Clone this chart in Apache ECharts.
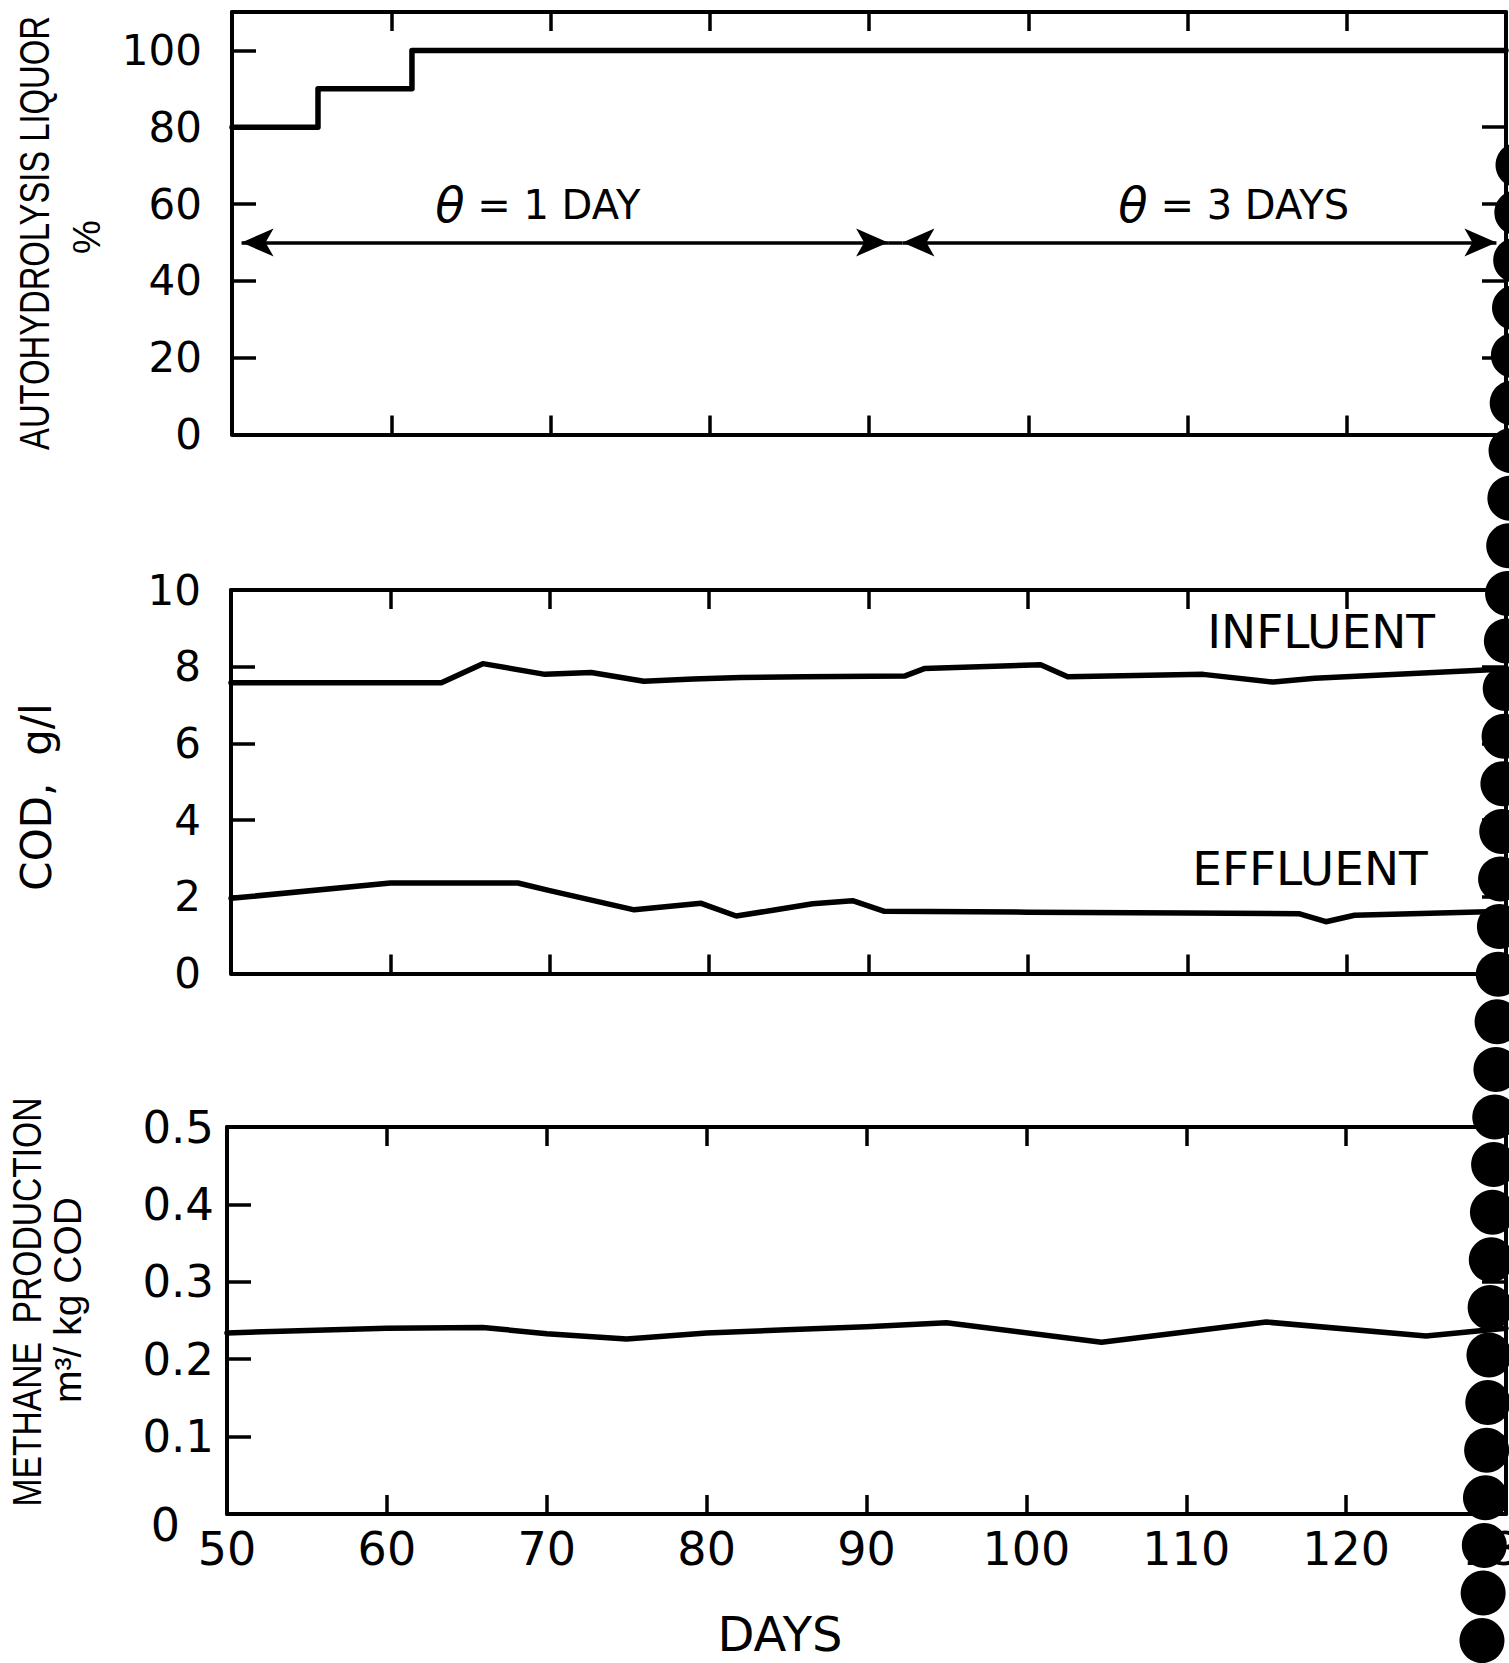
<!DOCTYPE html>
<html>
<head>
<meta charset="utf-8">
<script src="https://cdn.jsdelivr.net/npm/echarts@6/dist/echarts.min.js"></script>
<style>
  html, body { margin: 0; padding: 0; background: #fff; }
  #chart { width: 1509px; height: 1663px; }
</style>
</head>
<body>
<div id="chart"></div>
<script>
// ---- day axis ----
const dayTicks = [60, 70, 80, 90, 100, 110, 120];
const dayLabels = [50, 60, 70, 80, 90, 100, 110, 120, 130];

// ---- panel 1: autohydrolysis liquor in the feed, % ----
const liquorPoints = [[50, 80], [55.4, 80], [55.4, 90], [61.3, 90], [61.3, 100], [130, 100]];
const liquorTicks = [20, 40, 60, 80, 100];
const liquorLabels = [0, 20, 40, 60, 80, 100];
// hydraulic retention periods (arrow tips, in days) and the level they are drawn at
const periodOne = [50.6, 91.2];
const periodThree = [92.1, 129.4];
const periodLevel = 50;
const periodNames = ['θ = 1 DAY', 'θ = 3 DAYS'];

// ---- panel 2: COD, g/l ----
const influentCod = [
  [50, 7.58], [63.2, 7.58], [65.8, 8.08], [69.7, 7.8], [72.6, 7.85], [75.9, 7.62],
  [79, 7.68], [82, 7.72], [86, 7.74], [92.3, 7.76], [93.5, 7.95], [100.8, 8.05],
  [102.5, 7.74], [111, 7.8], [115.4, 7.6], [118, 7.7], [130, 7.94]
];
const effluentCod = [
  [50, 1.96], [60, 2.36], [68, 2.36], [70, 2.16], [75.3, 1.66], [79.5, 1.83],
  [81.7, 1.5], [84, 1.65], [86.5, 1.82], [89, 1.9], [91, 1.62], [100, 1.6],
  [110, 1.58], [117, 1.56], [118.7, 1.35], [120.5, 1.52], [130, 1.62]
];
const codTicks = [2, 4, 6, 8];
const codLabels = [0, 2, 4, 6, 8, 10];
const codNames = ['INFLUENT', 'EFFLUENT'];

// ---- panel 3: methane production, m3 / kg COD ----
const methaneYield = [
  [50, 0.234], [60, 0.240], [66, 0.241], [70, 0.233], [75, 0.226], [80, 0.234],
  [85, 0.238], [90, 0.242], [95, 0.247], [104.7, 0.222], [115, 0.248], [125, 0.230],
  [130, 0.240]
];
const methaneTicks = [0.1, 0.2, 0.3, 0.4];
const methaneLabels = [0, 0.1, 0.2, 0.3, 0.4, 0.5];

// ---- layout ----
const INK = '#000';
const NUM_FONT = 'DejaVu Sans';
const TXT_FONT = 'Liberation Sans';

const grids = [
  { left: 232, top: 12, width: 1274, height: 422.5, outerBoundsMode: 'none' },
  { left: 231, top: 590, width: 1275, height: 383.5, outerBoundsMode: 'none' },
  { left: 227, top: 1127, width: 1279, height: 387, outerBoundsMode: 'none' }
];
const yRanges = [[0, 110], [0, 10], [0, 0.5]];
const yTickSets = [liquorTicks, codTicks, methaneTicks];
const yLabelSets = [liquorLabels, codLabels, methaneLabels];
const yLabelSize = [42, 42, 45];
const yLabelMargin = [30, 30, 13];

const axisLine = { show: true, onZero: false, lineStyle: { color: INK, width: 4 } };

// the zero of the methane scale sits down and to the left of the corner
const zeroOffsetRich = { z: { padding: [22, 34, 0, 0], fontFamily: NUM_FONT, fontSize: 46, color: INK } };

const xAxes = [];
const yAxes = [];
grids.forEach((g, i) => {
  const isLast = i === grids.length - 1;
  ['bottom', 'top'].forEach(pos => {
    xAxes.push({
      gridIndex: i, type: 'value', position: pos, min: 50, max: 130, interval: 10,
      axisLine,
      axisTick: { show: true, inside: true, length: 19, customValues: dayTicks,
                  lineStyle: { color: INK, width: 3.5 } },
      axisLabel: {
        show: isLast && pos === 'bottom', customValues: dayLabels, margin: 12,
        color: INK, fontFamily: NUM_FONT, fontSize: 46
      },
      splitLine: { show: false }
    });
  });
  ['left', 'right'].forEach(pos => {
    const yLabel = {
      show: pos === 'left', customValues: yLabelSets[i], margin: yLabelMargin[i],
      color: INK, fontFamily: NUM_FONT, fontSize: yLabelSize[i]
    };
    if (isLast) {
      yLabel.formatter = v => (v === 0 ? '{z|0}' : String(v));
      yLabel.rich = zeroOffsetRich;
    }
    yAxes.push({
      gridIndex: i, type: 'value', position: pos,
      min: yRanges[i][0], max: yRanges[i][1],
      axisLine,
      axisTick: { show: true, inside: true, length: 24, customValues: yTickSets[i],
                  lineStyle: { color: INK, width: 3.5 } },
      axisLabel: yLabel,
      splitLine: { show: false }
    });
  });
});

function lineSeries(gi, data, extra) {
  return Object.assign({
    type: 'line', xAxisIndex: gi * 2, yAxisIndex: gi * 2, data,
    symbol: 'none', silent: true, animation: false,
    lineStyle: { color: INK, width: 5.5, cap: 'round', join: 'round' }
  }, extra || {});
}

const periodLine = {
  silent: true, animation: false,
  symbol: ['arrow', 'arrow'], symbolSize: [21, 32],
  label: { show: false },
  lineStyle: { color: INK, width: 3.5, type: 'solid' },
  itemStyle: { color: INK },
  emphasis: { disabled: true },
  data: [
    [{ coord: [periodOne[0], periodLevel] }, { coord: [periodOne[1], periodLevel] }],
    [{ coord: [periodOne[1], periodLevel], symbol: 'none' },
     { coord: [periodThree[0], periodLevel], symbol: 'none' }],
    [{ coord: [periodThree[0], periodLevel] }, { coord: [periodThree[1], periodLevel] }]
  ]
};

const option = {
  backgroundColor: '#fff',
  animation: false,
  grid: grids,
  xAxis: xAxes,
  yAxis: yAxes,
  series: [
    lineSeries(0, liquorPoints, { name: 'Autohydrolysis liquor', markLine: periodLine }),
    lineSeries(1, influentCod, { name: 'Influent COD' }),
    lineSeries(1, effluentCod, { name: 'Effluent COD' }),
    lineSeries(2, methaneYield, { name: 'Methane production' })
  ]
};

const chart = echarts.init(document.getElementById('chart'), null, { renderer: 'svg' });
chart.setOption(option);

// ---- text annotations and axis titles ----
const at = (seriesIndex, pt) => chart.convertToPixel({ seriesIndex }, pt);

function label(text, pos, size, family, extra) {
  return Object.assign({
    type: 'text', x: pos[0], y: pos[1], z: 50, silent: true,
    style: {
      text, fill: INK, fontSize: size, fontFamily: family,
      align: 'center', verticalAlign: 'middle'
    }
  }, extra || {});
}

function thetaLabel(text, pos) {
  const el = label(text.replace('θ', '{th|θ}'), pos, 40, NUM_FONT);
  el.style.rich = {
    th: { fontSize: 48, fontFamily: NUM_FONT, fontStyle: 'italic', fill: INK }
  };
  return el;
}

// vertical titles read bottom-to-top; scaleX narrows the lettering along the baseline
const up = (narrow) => ({ rotation: Math.PI / 2, scaleX: narrow, scaleY: 1 });

const graphics = [
  thetaLabel(periodNames[0], at(0, [69.2, 59.7])),
  thetaLabel(periodNames[1], at(0, [112.9, 59.7])),
  label(codNames[0], at(1, [118.4, 8.93]), 47, NUM_FONT),
  label(codNames[1], at(2, [117.7, 2.73]), 47, NUM_FONT),
  label('DAYS', [780, 1634], 48, NUM_FONT),
  label('AUTOHYDROLYSIS LIQUOR', [35, 233], 42, TXT_FONT, up(0.78)),
  label('%', [87, 237], 38, TXT_FONT, up(1)),
  label('COD,  g/l', [36, 797], 42, NUM_FONT, up(1)),
  label('METHANE  PRODUCTION', [27, 1302], 41, TXT_FONT, up(0.82)),
  label('m³/ kg COD', [67, 1300], 39, TXT_FONT, up(1))
];

// punched-hole margin running down the right-hand edge of the sheet
for (let cy = 165; cy < 1700; cy += 47.6) {
  graphics.push({
    type: 'circle', z: 100, silent: true,
    shape: { cx: 1518 - (cy - 165) * 36 / 1475, cy, r: 22.5 },
    style: { fill: INK }
  });
}

chart.setOption({ graphic: graphics });
</script>
</body>
</html>
